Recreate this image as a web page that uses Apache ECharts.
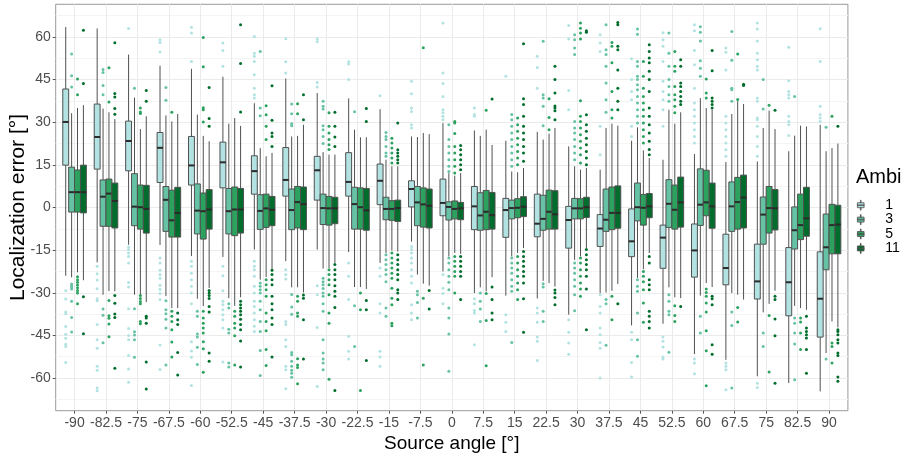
<!DOCTYPE html>
<html>
<head>
<meta charset="utf-8">
<script src="https://cdn.jsdelivr.net/npm/echarts@6/dist/echarts.min.js"></script>
<style>
  html, body { margin: 0; padding: 0; background: #fff; }
  #chart { width: 908px; height: 455px; }
</style>
</head>
<body>
<div id="chart"></div>
<script>
// Source angles (degrees) on the x axis
const angleLabels = ['-90','-82.5','-75','-67.5','-60','-52.5','-45','-37.5','-30','-22.5','-15','-7.5',
  '0','7.5','15','22.5','30','37.5','45','52.5','60','67.5','75','82.5','90'];
// Ambisonics orders
const ambiLevels = ['1', '3', '5', '11'];
// y-axis tick values
const yTicks = [-60, -45, -30, -15, 0, 15, 30, 45, 60];

// Box statistics per angle: [lower whisker, Q1, median, Q3, upper whisker]
const ambi1Boxes = [
  [-24.0, 14.9, 30.1, 41.7, 63.5], [-19.3, 13.5, 24.8, 36.4, 63.0], [-13.1, 12.9, 23.4, 30.4, 53.8],
  [-13.2, 8.8, 21.0, 26.4, 49.9], [-17.1, 7.9, 14.8, 25.0, 48.8], [-17.4, 6.9, 15.9, 23.0, 46.0],
  [-14.8, 4.7, 12.8, 18.2, 36.7], [-18.9, 4.0, 9.7, 21.1, 45.4], [-14.8, 2.6, 13.1, 18.0, 40.3],
  [-15.7, 4.0, 9.0, 19.3, 38.4], [-19.5, 1.0, 9.4, 15.3, 34.6], [-12.0, 0.2, 6.5, 9.4, 25.0],
  [-22.5, -2.9, 1.6, 10.0, 29.7], [-30.1, -7.8, 0.4, 7.4, 27.1], [-31.0, -10.5, -0.9, 3.2, 23.5],
  [-32.0, -10.3, -5.7, 4.7, 26.6], [-37.7, -14.3, -4.4, 0.4, 21.5], [-30.1, -13.7, -7.4, -2.5, 13.3],
  [-41.5, -17.3, -11.9, -0.5, 23.5], [-40.9, -21.4, -10.6, -6.2, 16.8], [-51.6, -24.5, -15.1, -5.8, 18.8],
  [-53.6, -27.2, -21.3, -9.4, 16.0], [-59.4, -32.2, -26.0, -12.9, 16.2], [-61.8, -38.1, -26.3, -14.1, 19.8],
  [-64.7, -45.6, -32.1, -15.6, 29.1]
];
const ambi3Boxes = [
  [-24.6, -1.6, 5.4, 14.2, 33.2], [-30.7, -6.6, 3.8, 9.7, 34.8], [-30.7, -6.4, 0.3, 11.9, 38.7],
  [-31.2, -8.4, 2.7, 7.4, 32.4], [-32.1, -9.3, -1.1, 8.3, 32.7], [-31.9, -9.3, -1.3, 6.7, 29.5],
  [-25.4, -7.7, -1.2, 4.5, 20.9], [-28.1, -7.8, -0.9, 6.5, 25.0], [-21.5, -6.0, -0.2, 4.7, 19.5],
  [-28.0, -7.6, 1.2, 7.1, 27.4], [-16.0, -4.3, -0.5, 3.6, 16.8], [-23.6, -6.4, 1.8, 7.4, 24.8],
  [-17.2, -4.4, 0.2, 2.0, 12.1], [-28.1, -8.0, -2.8, 5.2, 25.2], [-17.2, -4.0, -0.2, 2.6, 12.7],
  [-25.8, -8.0, -4.0, 4.3, 23.9], [-18.4, -4.0, -0.3, 3.2, 14.5], [-29.9, -8.4, -4.3, 6.5, 28.0],
  [-24.8, -4.7, 0.1, 8.6, 28.2], [-28.1, -7.0, 1.3, 9.8, 34.4], [-31.0, -6.3, 1.0, 13.6, 38.5],
  [-30.1, -8.4, 0.4, 9.0, 32.9], [-36.9, -12.9, -2.5, 3.7, 28.0], [-34.6, -14.6, -8.0, 0.2, 25.3],
  [-51.2, -21.9, -14.0, -2.3, 19.8]
];
const ambi5Boxes = [
  [-22.8, -1.6, 5.4, 13.2, 35.0], [-29.4, -6.6, 4.9, 10.0, 33.5], [-30.7, -7.6, 0.1, 7.9, 27.6],
  [-35.4, -10.4, -4.5, 6.1, 30.3], [-34.7, -11.1, -1.3, 5.1, 25.2], [-34.6, -9.9, -0.7, 7.2, 31.5],
  [-24.5, -7.0, -0.3, 4.7, 18.0], [-28.1, -7.2, 1.9, 7.4, 25.2], [-21.3, -6.2, -0.3, 3.9, 18.6],
  [-28.0, -7.6, 0.1, 6.9, 24.7], [-15.1, -4.5, -0.5, 2.4, 14.5], [-26.8, -6.9, 1.1, 6.9, 26.2],
  [-16.0, -4.0, -0.5, 2.3, 11.2], [-29.5, -7.8, -1.5, 6.0, 27.4], [-16.0, -3.6, -0.1, 3.1, 12.4],
  [-26.6, -7.6, -1.5, 6.1, 26.0], [-17.2, -4.0, -0.3, 3.1, 13.3], [-29.3, -7.8, -1.9, 7.2, 29.5],
  [-21.7, -6.2, -0.1, 4.6, 20.1], [-31.6, -7.6, -0.8, 7.9, 29.5], [-26.6, -2.9, 1.8, 13.1, 35.0],
  [-30.7, -7.6, 1.9, 10.6, 37.4], [-33.9, -9.0, -0.2, 7.4, 34.1], [-35.4, -11.3, -6.2, 4.7, 28.8],
  [-40.1, -16.3, -6.2, 1.1, 20.9]
];
const ambi11Boxes = [
  [-25.6, -1.9, 5.4, 14.9, 36.0], [-29.5, -7.2, 2.3, 8.6, 31.1], [-33.3, -9.0, -0.5, 7.8, 32.1],
  [-35.4, -10.4, -1.9, 7.1, 32.9], [-28.3, -7.6, -0.7, 6.3, 23.3], [-31.6, -9.0, -0.7, 6.7, 28.7],
  [-21.7, -6.4, -0.8, 3.9, 19.2], [-29.9, -7.8, 1.2, 7.2, 29.1], [-19.5, -5.7, -0.3, 3.6, 18.6],
  [-28.7, -8.0, -1.0, 6.7, 24.7], [-15.5, -4.9, -0.2, 2.6, 14.5], [-27.5, -7.2, 0.6, 6.5, 25.8],
  [-16.3, -4.3, -0.3, 1.8, 12.1], [-24.5, -7.6, -2.7, 5.3, 22.0], [-14.3, -3.2, 0.3, 3.8, 13.9],
  [-27.8, -7.6, -2.4, 5.9, 28.0], [-14.3, -3.5, 0.1, 3.6, 13.9], [-26.9, -7.3, -1.9, 7.6, 28.8],
  [-16.0, -3.6, 0.4, 4.9, 17.4], [-31.9, -6.9, 1.8, 10.7, 33.5], [-28.0, -7.3, 0.4, 8.6, 34.4],
  [-32.4, -7.2, 3.5, 11.4, 36.4], [-29.3, -7.9, -0.3, 6.3, 27.6], [-36.0, -10.1, -3.8, 7.1, 28.5],
  [-42.2, -16.3, -6.0, 0.8, 22.5]
];

// Outlying observations per angle
const ambi1Outliers = [
  [-29.3, -32.2, -36.8, -37.4, -41.9, -44.6, -46.0, -48.1, -48.9, -54.5],
  [-20.7, -23.3, -25.5, -28.6, -32.1, -32.8, -41.2, -46.5, -49.5, -55.9, -57.3, -63.5, -64.5],
  [63.0, -13.9, -14.8, -16.0, -17.2, -19.5, -26.4, -28.0, -35.6, -42.6, -45.0, -46.5, -52.1, -56.8, -61.5],
  [59.0, 58.1, 54.7, -17.8, -19.5, -22.1, -23.6, -24.9, -27.4, -28.8, -30.3, -32.4, -48.4, -57.0],
  [63.4, 61.4, 51.4, -18.9, -20.7, -23.1, -25.4, -27.7, -30.1, -33.9, -47.2, -50.5, -52.7, -62.6],
  [57.9, 55.2, 49.7, -20.7, -24.0, -29.3, -33.0, -34.2, -36.0, -37.7, -39.5, -42.4, -54.4],
  [60.2, 54.3, 53.2, 51.4, 46.7, 42.0, 39.7, 38.5, -18.9, -20.7, -21.9, -24.2, -27.7, -30.1, -33.0, -34.8, -37.1, -39.5, -41.8, -43.6],
  [59.4, 51.3, 47.3, -21.9, -23.6, -25.2, -40.1, -41.2, -46.5, -48.9, -55.9, -57.1, -63.8],
  [59.4, 58.4, 44.0, 42.4, -27.5, -30.7, -42.2, -63.0],
  [51.3, 50.5, 45.0, -19.5, -24.2, -32.4, -45.3, -50.6, -53.3],
  [39.3, -21.3, -24.2, -33.9, -37.1, -50.6, -52.6, -55.9],
  [44.4, 40.0, 35.0, 33.8, 29.1, 28.0, -13.7, -14.8, -16.0, -17.8, -19.5, -21.9, -24.2, -26.6, -34.2, -37.1, -39.5],
  [64.9, 47.3, 43.6, 39.1, 34.4, 33.3, 32.1, 30.9, -23.6, -28.4, -30.3, -33.9],
  [35.0, 32.7, 32.1, -32.1, -33.9, -36.2, -37.1, -48.3],
  [46.2, -37.7, -40.4, -43.6],
  [53.2, 49.3, 42.0, -35.4, -37.1, -40.4, -45.6, -47.1, -53.8],
  [64.0, 59.3, 41.2, 34.4, -39.5, -43.9, -47.7, -51.6],
  [60.8, 57.9, 54.9, 28.6, 18.6, -30.7, -34.8, -37.1, -42.4, -44.8, -47.5, -49.5, -60.0],
  [52.3, 45.0, 40.8, 37.9, 28.6, 25.0, -43.9, -46.5, -54.5, -59.6],
  [61.5, 59.0, 56.7, 51.4, 44.4, 40.8, 37.9, 34.4, 28.6, -45.6, -47.1, -49.1, -52.6, -53.3],
  [64.3, 62.2, 55.2, 50.2, 42.0, 36.8, 34.4, 32.1, 29.7, 27.4, 25.0, 22.7, -53.3, -54.7, -58.5],
  [56.1, 54.6, 48.4, 32.1, 29.7, 27.4, 25.0, 22.7, 20.3, 18.0, -54.7, -55.9, -57.1, -64.1],
  [64.9, 62.8, 58.6, 54.3, 52.0, 49.7, 48.4, 38.5, 37.4, 31.5, 30.9, 28.6, 25.0, 21.5, 18.0, -61.8, -63.3],
  [56.4, 44.6, 40.8, 39.7, 38.5, 32.1, 30.3, 29.1, 25.3],
  [62.9, 51.4, 35.6, 32.7, 31.5, 30.3]
];
const ambi3Outliers = [
  [54.0, 46.4, 42.4, -26.9, -27.5, -28.0, -28.7, -33.0, -38.7, -43.8],
  [48.6, 47.5, 42.9, 39.7, -35.7, -37.9, -47.6],
  [42.0, -35.6, -43.7, -44.9, -46.5, -52.7],
  [42.2, 37.7, -32.8, -36.0, -37.4, -39.3, -42.4, -55.4],
  [-36.5, -38.3, -44.5, -45.6, -49.2, -55.2],
  [-33.9, -35.4, -42.8, -44.2, -54.7, -56.1],
  [54.9, 35.0, 32.3, -26.6, -27.7, -28.9, -30.1, -33.0, -36.0, -40.1, -43.6, -50.3, -59.1],
  [36.4, 33.0, 29.5, 28.8, -30.6, -35.0, -37.6, -51.0, -51.8, -54.1, -55.9, -57.3, -58.3, -59.7],
  [37.4, 35.6, 34.7, 28.8, 27.4, 25.0, 22.5, -24.9, -26.1, -27.2, -28.5, -30.1, -31.2, -33.9, -36.5, -46.5, -51.2, -53.3, -54.7, -57.1],
  [33.7, -34.6, -48.9],
  [26.4, 25.0, 23.9, 21.5, 19.2, 18.0, -16.6, -18.4, -20.1, -21.9, -23.6, -26.1, -35.4, -38.3],
  [-29.5, -30.7, -33.4, -38.9],
  [29.1, 23.9, 21.5, 19.2, 16.8, 14.5, 12.7, -17.8, -19.5, -21.9, -24.2, -26.3, -28.9, -35.4, -38.9, -44.5, -57.6],
  [-30.1, -33.0, -35.7, -40.1],
  [32.7, 30.9, 28.6, 26.2, 23.9, 21.5, 19.2, 16.8, 14.5, -17.8, -19.5, -21.3, -23.1, -25.4, -27.7, -29.5, -47.5],
  [58.5, 39.7, 38.5, 35.6, 28.8, -26.8, -28.0, -36.5, -40.1],
  [60.8, 59.0, 56.1, 53.8, 30.3, 28.0, 26.2, 23.9, 21.5, 19.2, 16.8, -19.5, -21.3, -23.1, -25.4, -27.7, -30.7, -36.3],
  [64.3, 55.5, 53.8, 49.7, 43.8, 37.9, 33.5, -32.4, -33.9, -48.5],
  [62.8, 61.0, 51.4, 49.7, 46.2, 45.0, 43.2, 41.4, 39.1, 36.8, 34.4, 32.1, 29.7, -25.4, -27.7, -29.5, -37.1, -46.5, -52.3],
  [61.4, 54.3, 49.7, 45.0, 42.6, 39.7, 37.4, -30.7, -33.0, -36.5, -37.7, -50.9],
  [63.6, 61.7, 58.6, 51.6, 49.0, 46.2, -38.3, -44.2],
  [61.9, 51.8, 42.0, 41.4, 37.4, -36.8, -41.5, -63.5],
  [45.0, 34.7, -44.2, -48.9],
  [39.1, -38.9, -40.7, -44.2, -48.0, -60.6],
  [28.2, -53.3]
];
const ambi5Outliers = [
  [45.2, 39.7, -24.4, -25.4, -26.3, -27.3, -28.2, -29.2, -30.1, -33.9],
  [49.2, 37.1, -32.7, -38.1, -39.0, -41.0, -45.5],
  [35.0, 33.6, 33.1, -31.0, -32.0, -33.1, -33.9, -40.1, -40.9],
  [33.5, -36.5, -38.3, -40.1, -43.0, -47.3, -52.6],
  [59.8, 49.5, 35.1, 34.4, 30.1, -36.5, -38.9, -40.7, -42.4, -44.2, -47.2, -49.7, -58.0],
  [-36.5, -38.3, -40.7, -42.4, -45.1, -55.4],
  [35.8, 32.6, 28.6, 23.9, -25.4, -27.2, -28.9, -31.2, -37.1, -40.1, -43.4, -50.0, -55.6],
  [36.5, 33.0, -31.2, -33.0, -37.1, -38.3, -53.2, -55.4, -56.3, -62.0],
  [33.3, 28.6, 26.2, 23.9, 22.1, 20.4, -21.9, -23.6, -25.4, -27.2, -30.7, -37.1, -40.7, -60.4],
  [-30.1, -36.0, -64.4],
  [24.4, 22.7, 20.9, 19.2, 17.4, 15.7, -16.0, -17.8, -19.5, -21.3, -23.1, -24.9, -28.4, -31.9, -34.2, -40.7, -41.6],
  [56.2, -31.9, -55.4],
  [30.3, 29.7, 26.0, 21.5, 19.2, 16.8, 14.5, 12.1, -17.2, -18.9, -20.7, -22.5, -24.2, -30.1],
  [34.2, -30.3, -39.8, -55.7],
  [31.5, 29.1, 26.8, 24.4, 22.1, 19.7, 17.4, 15.0, -17.2, -19.5, -21.9, -24.2, -26.6, -28.9, -32.4],
  [38.3, 31.7, 27.4],
  [64.9, 63.1, 61.4, 59.3, 37.6, 32.1, 30.3, 28.0, 25.6, 23.3, 20.9, 18.6, 15.7, -17.8, -19.5, -21.9, -24.2, -26.6, -28.7, -31.2],
  [58.1, 56.7, 50.9, 40.8, 34.4, 31.5, -31.2, -39.5],
  [51.4, 46.2, 42.0, 39.1, 36.8, 34.4, 32.1, 29.7, 27.4, 25.0, 22.7, -22.5, -24.2, -26.1, -28.9, -33.6, -40.4],
  [54.9, 49.7, 47.9, 42.6, 39.7, 37.9, 35.6, 33.3, -34.6, -38.0, -40.1],
  [45.2, 40.3, 38.5, -28.7, -29.9, -31.2, -33.6, -36.8, -43.4, -50.4, -62.7],
  [54.0, 38.0, -35.2, -40.3],
  [36.0, -38.0, -57.9],
  [-38.9, -40.3, -44.2, -50.0],
  [32.1, -47.7, -48.9, -54.7]
];
const ambi11Outliers = [
  [62.4, 43.6, -31.4, -44.4],
  [58.0, 40.1, 38.9, 34.8, 32.8, -31.0, -33.7, -37.5, -38.7, -56.6],
  [41.2, 37.4, -38.3, -38.9, -40.7, -54.4, -63.9],
  [-37.1, -39.5, -41.2, -51.0, -58.9],
  [42.2, 31.3, 28.6, -29.2, -30.1, -31.0, -32.0, -34.8, -36.8, -51.2, -54.1],
  [64.3, 50.7, 33.6, -33.0, -34.2, -35.4, -36.5, -37.7, -39.3, -41.2, -43.0, -47.0, -56.1],
  [42.8, 30.7, 26.2, 25.0, 21.5, -22.1, -23.6, -25.4, -27.2, -31.2, -33.9, -36.0, -38.9, -41.2, -52.6],
  [39.7, 30.9, -30.8, -31.9, -39.5, -53.3],
  [33.5, 28.6, 24.8, 21.5, -20.1, -21.9, -23.6, -25.4, -27.5, -29.5, -31.2, -35.2, -64.4],
  [34.8, 30.3, -32.7, -36.0, -53.8],
  [29.7, 20.3, 19.2, 18.0, 16.8, 15.7, -16.6, -18.4, -20.1, -21.9, -23.6, -25.4, -28.9, -30.1, -32.4],
  [-29.2, -35.7],
  [21.8, 20.3, 18.6, 16.8, 15.0, 13.3, -17.2, -18.9, -20.7, -22.5, -24.2, -32.4],
  [38.2, -28.0, -32.4, -37.1, -39.5],
  [57.6, 38.3, 36.2, 32.1, 28.6, 26.2, 23.9, 21.5, 19.2, 16.3, -15.5, -17.2, -18.9, -20.7, -22.5, -24.2, -26.6, -32.1, -43.9],
  [49.7, 45.0, 40.3, 35.7, 35.0, 34.0, 30.9, -29.0, -30.1, -31.7, -34.2],
  [62.2, 61.7, 32.6, 29.1, 26.8, 24.4, 22.1, 19.7, 17.4, 15.0, -14.8, -16.6, -18.4, -20.1, -21.9, -24.2, -28.7, -43.0],
  [65.1, 64.3, 56.7, 55.5, 48.4, 42.0, 37.4, 34.4, -33.9],
  [57.3, 54.9, 52.6, 50.9, 47.9, 45.0, 40.8, 35.0, 32.1, 29.1, 26.2, 23.3, 20.4, 18.6, -17.2, -19.5, -25.4, -27.2, -28.9, -36.5, -38.3, -40.1, -42.4],
  [52.0, 49.7, 43.8, 42.6, 40.8, 39.1, 37.4, 36.2, -34.8],
  [55.2, 48.1, 38.5, 37.4, 36.2, 35.0, -31.2, -32.1, -34.2, -48.3, -51.6],
  [43.4, 42.9],
  [34.2, -31.2, -32.4, -39.2, -45.1, -61.8],
  [-38.3, -42.4, -43.6, -44.8, -45.9, -50.0, -58.3],
  [28.6, -43.0, -43.6, -44.8, -46.5, -47.7, -51.2, -52.1, -59.6, -61.1]
];

const boxSets = [ambi1Boxes, ambi3Boxes, ambi5Boxes, ambi11Boxes];
const outlierSets = [ambi1Outliers, ambi3Outliers, ambi5Outliers, ambi11Outliers];
const fillColors = ['#b2e2e2', '#66c2a4', '#2ca25f', '#006d2c'];

const FONT = "'Liberation Sans', Arial, Helvetica, sans-serif";
const OUTLINE = '#505050';
const nCat = angleLabels.length;
const EXPAND = 0.6;           // discrete-axis padding, in category units
const DODGE_WIDTH = 0.75;     // total width of a group of boxes, in category units
const boxUnit = DODGE_WIDTH / ambiLevels.length;
const dodge = ambiLevels.map((_, k) => (k - (ambiLevels.length - 1) / 2) * boxUnit);
const catIndex = angleLabels.map((_, i) => i);
const minorTicks = yTicks.map(t => t - 7.5).concat([yTicks[yTicks.length - 1] + 7.5]);

function boxRenderer(color) {
  return function (params, api) {
    const x = api.value(0);
    const lo = api.coord([x, api.value(1)]);
    const q1 = api.coord([x, api.value(2)]);
    const md = api.coord([x, api.value(3)]);
    const q3 = api.coord([x, api.value(4)]);
    const hi = api.coord([x, api.value(5)]);
    const w = api.size([boxUnit, 0])[0];
    const cx = md[0];
    const line = { stroke: OUTLINE, lineWidth: 1 };
    return {
      type: 'group',
      children: [
        { type: 'line', shape: { x1: cx, y1: hi[1], x2: cx, y2: q3[1] }, style: line },
        { type: 'line', shape: { x1: cx, y1: q1[1], x2: cx, y2: lo[1] }, style: line },
        { type: 'rect', shape: { x: cx - w / 2, y: q3[1], width: w, height: q1[1] - q3[1] },
          style: { fill: color, stroke: OUTLINE, lineWidth: 1 } },
        { type: 'line', shape: { x1: cx - w / 2, y1: md[1], x2: cx + w / 2, y2: md[1] },
          style: { stroke: '#2b2b2b', lineWidth: 2 } }
      ]
    };
  };
}

const series = [];
ambiLevels.forEach((name, k) => {
  series.push({
    type: 'scatter',
    name: name,
    xAxisIndex: k + 1,
    yAxisIndex: 0,
    symbol: 'circle',
    symbolSize: 3,
    silent: true,
    z: 2,
    itemStyle: { color: fillColors[k], opacity: 1 },
    data: outlierSets[k].flatMap((vals, i) => vals.map(v => [i, v]))
  });
  series.push({
    type: 'custom',
    name: name,
    xAxisIndex: k + 1,
    yAxisIndex: 0,
    z: 3,
    silent: true,
    itemStyle: { color: fillColors[k] },
    encode: { x: 0, y: [1, 2, 3, 4, 5] },
    renderItem: boxRenderer(fillColors[k]),
    data: boxSets[k].map((b, i) => [i].concat(b))
  });
});

const hiddenX = dodge.map(d => ({
  type: 'value', gridIndex: 0, min: -EXPAND - d, max: nCat - 1 + EXPAND - d, show: false
}));

const legendIcon = 'path://M0,3h8v6h-8zM0,5.6h8v0.8h-8zM3.6,0h0.8v3h-0.8zM3.6,9h0.8v3h-0.8z';

const option = {
  animation: false,
  backgroundColor: '#ffffff',
  textStyle: { fontFamily: FONT },
  title: {
    text: 'Ambi',
    left: 851, top: 162,
    textStyle: { fontFamily: FONT, fontSize: 20, fontWeight: 'normal', color: '#000' }
  },
  legend: {
    orient: 'vertical',
    left: 852, top: 193,
    itemGap: 0,
    itemWidth: 7, itemHeight: 10,
    selectedMode: false,
    data: ambiLevels.map((name, k) => ({
      name: name, icon: legendIcon,
      itemStyle: { color: fillColors[k], borderColor: OUTLINE, borderWidth: 0.8 }
    })),
    textStyle: { fontFamily: FONT, fontSize: 14, color: '#000', lineHeight: 14.4, padding: [0, 0, 0, 16] }
  },
  grid: {
    left: 55.7, top: 4.3, width: 792.2, height: 406.4,
    outerBoundsMode: 'none', containLabel: false,
    show: true, backgroundColor: '#ffffff', borderColor: '#9a9a9a', borderWidth: 1
  },
  xAxis: [{
    type: 'value', gridIndex: 0,
    min: -EXPAND, max: nCat - 1 + EXPAND,
    name: 'Source angle [°]', nameLocation: 'middle', nameGap: 19,
    nameTextStyle: { fontFamily: FONT, fontSize: 19, color: '#000' },
    axisLine: { show: false, onZero: false },
    axisTick: { show: true, length: 3, customValues: catIndex, lineStyle: { color: '#555', width: 1 } },
    axisLabel: { customValues: catIndex, margin: 5, fontFamily: FONT, fontSize: 14, color: '#4d4d4d',
      formatter: v => angleLabels[Math.round(v)] },
    splitLine: { show: true, lineStyle: { color: '#ebebeb', width: 1 } }
  }].concat(hiddenX),
  yAxis: [{
    type: 'value', gridIndex: 0, min: -71.5, max: 71.5,
    name: 'Localization error [°]', nameLocation: 'middle', nameGap: 27, nameRotate: 90,
    nameMoveOverlap: false,
    nameTextStyle: { fontFamily: FONT, fontSize: 21, color: '#000' },
    axisLine: { show: false, onZero: false },
    axisTick: { show: true, length: 3, customValues: yTicks, lineStyle: { color: '#555', width: 1 } },
    axisLabel: { customValues: yTicks, margin: 5, fontFamily: FONT, fontSize: 14, color: '#4d4d4d' },
    splitLine: { show: true, lineStyle: { color: '#ebebeb', width: 1 } }
  }, {
    type: 'value', gridIndex: 0, min: -71.5, max: 71.5, position: 'left',
    axisLine: { show: false, onZero: false },
    axisTick: { show: false, customValues: minorTicks },
    axisLabel: { show: false, customValues: minorTicks },
    splitLine: { show: true, lineStyle: { color: '#f4f4f4', width: 1 } }
  }],
  series: series
};

const chart = echarts.init(document.getElementById('chart'), null, { renderer: 'canvas' });
chart.setOption(option);
</script>
</body>
</html>
